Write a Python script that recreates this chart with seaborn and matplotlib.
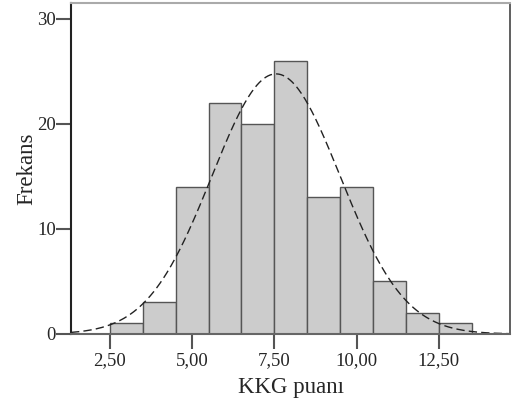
import numpy as np
import pandas as pd
import matplotlib
matplotlib.use("Agg")
import matplotlib.pyplot as plt
import seaborn as sns

# Data
bin_edges = [2.5, 3.5, 4.5, 5.5, 6.5, 7.5, 8.5, 9.5, 10.5, 11.5, 12.5, 13.5]
bin_mids = [3, 4, 5, 6, 7, 8, 9, 10, 11, 12, 13]
counts = [1, 3, 14, 22, 20, 26, 13, 14, 5, 2, 1]
curve_mean = 7.55
curve_sd = 1.95
x_ticks = [2.5, 5.0, 7.5, 10.0, 12.5]
x_tick_labels = ["2,50", "5,00", "7,50", "10,00", "12,50"]
y_ticks = [0, 10, 20, 30]
x_label = "KKG puanı"
y_label = "Frekans"

sns.set_style("white")
plt.rcParams["font.family"] = ["Liberation Serif", "DejaVu Serif"]

fig = plt.figure(figsize=(5.19, 4.08), dpi=100)
ax = fig.add_axes([0.1368, 0.1814, 0.8459, 0.8112])

df = pd.DataFrame({"x": bin_mids, "w": counts})
sns.histplot(data=df, x="x", weights="w", bins=bin_edges, ax=ax,
             color="#cccccc", edgecolor="#555555", linewidth=1.0, alpha=1.0)

xmin, xmax = 1.32, 14.66
xs = np.linspace(xmin, xmax, 400)
n = sum(counts)
ys = n * 1.0 / (curve_sd * np.sqrt(2 * np.pi)) * np.exp(-0.5 * ((xs - curve_mean) / curve_sd) ** 2)
sns.lineplot(x=xs, y=ys, ax=ax, color="#222222", linewidth=1.0, linestyle=(0, (6, 3)))

ax.set_xlim(xmin, xmax)
ax.set_ylim(0, 31.5)
ax.set_xticks(x_ticks)
ax.set_xticklabels(x_tick_labels)
ax.set_yticks(y_ticks)
ax.tick_params(axis="both", direction="out", length=11, width=1.5, color="#555555",
               labelsize=13.5, bottom=True, left=True)
ax.tick_params(axis="x", pad=2)
ax.tick_params(axis="y", pad=0)
ax.set_xlabel(x_label, fontsize=16.5, labelpad=6)
ax.set_ylabel(y_label, fontsize=16.5, labelpad=0)

ax.spines["left"].set_color("#222222")
ax.spines["left"].set_linewidth(1.5)
ax.spines["bottom"].set_color("#666666")
ax.spines["bottom"].set_linewidth(1.5)
ax.spines["top"].set_color("#aaaaaa")
ax.spines["top"].set_linewidth(1.5)
ax.spines["right"].set_color("#444444")
ax.spines["right"].set_linewidth(1.2)
for s in ax.spines.values():
    s.set_visible(True)

fig.savefig("out.png", dpi=100)
